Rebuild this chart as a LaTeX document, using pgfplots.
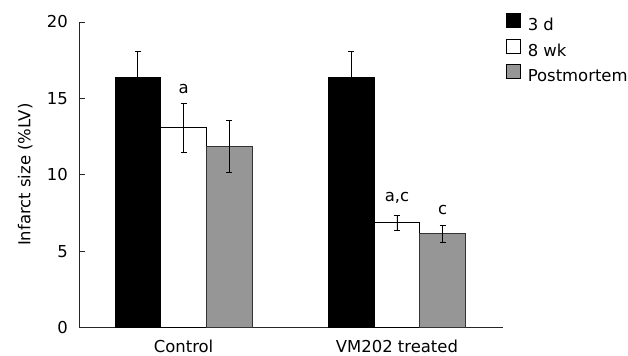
\documentclass[border=0pt]{standalone}
\usepackage{pgfplots}
\pgfplotsset{compat=1.18}
\usepackage{fontspec}
\setmainfont{DejaVu Sans}
\definecolor{bargray}{RGB}{150,150,150}
\newcommand{\chartfont}{\fontsize{16.5}{19}\selectfont}
\pgfplotsset{myerr/.style={
  error bars/y dir=both, error bars/y explicit,
  error bars/error bar style={line width=0.8bp, black},
  error bars/error mark options={rotate=90, mark size=3bp, line width=0.8bp, black}}}
\begin{document}
\begin{tikzpicture}
\path[use as bounding box] (-79bp,-28.5bp) rectangle (549bp,327.5bp);
\begin{axis}[
  scale only axis,
  width=424bp, height=305.5bp,
  anchor=south west, at={(0,0)},
  xmin=-0.49, xmax=1.497,
  ymin=0, ymax=20,
  axis x line*=bottom, axis y line*=left,
  axis line style={line width=0.8bp, black!85},
  ytick={0,5,10,15,20},
  xtick={0,1}, xticklabels={Control, VM202 treated},
  x tick style={draw=none},
  y tick style={line width=0.8bp, black!85},
  tick align=inside, major tick length=6bp,
  /pgf/number format/assume math mode=true,
  tick label style={font=\chartfont},
  yticklabel style={inner sep=0pt, xshift=-11bp},
  xticklabel style={inner sep=0pt, yshift=-6bp},
  ylabel={Infarct size (\%LV)},
  ylabel style={font=\chartfont, at={(axis description cs:-0.127,0.5)}, anchor=center},
  ybar, bar width=45.7bp, bar shift=0pt,
  legend style={at={(1,1)}, anchor=north west, xshift=3bp, yshift=8.5bp,
    draw=none, fill=none, inner sep=0pt, outer sep=0pt,
    font=\chartfont, row sep=5bp,
    nodes={inner sep=0pt, text height=12bp, text depth=3bp}},
  legend cell align=left,
  legend image code/.code={\draw[#1, draw=black, line width=0.8bp] (0bp,-1.5bp) rectangle (14bp,12.5bp); \path (21bp,0bp);},
]
\addplot[fill=black, draw=black, line width=0.8bp, myerr] coordinates {(-0.214,16.35) +- (0,1.75) (0.786,16.35) +- (0,1.75)};
\addplot[fill=white, draw=black, line width=0.8bp, myerr] coordinates {(0,13.07) +- (0,1.6) (1,6.87) +- (0,0.5)};
\addplot[fill=bargray, draw=black!80, line width=0.8bp, myerr] coordinates {(0.214,11.85) +- (0,1.7) (1.214,6.14) +- (0,0.57)};
\legend{3 d, 8 wk, Postmortem}
\node[font=\chartfont, anchor=center] at (axis cs:0,15.64) {a};
\node[font=\chartfont, anchor=center] at (axis cs:1,8.49) {a,c};
\node[font=\chartfont, anchor=center] at (axis cs:1.214,7.70) {c};
\end{axis}
\end{tikzpicture}
\end{document}
